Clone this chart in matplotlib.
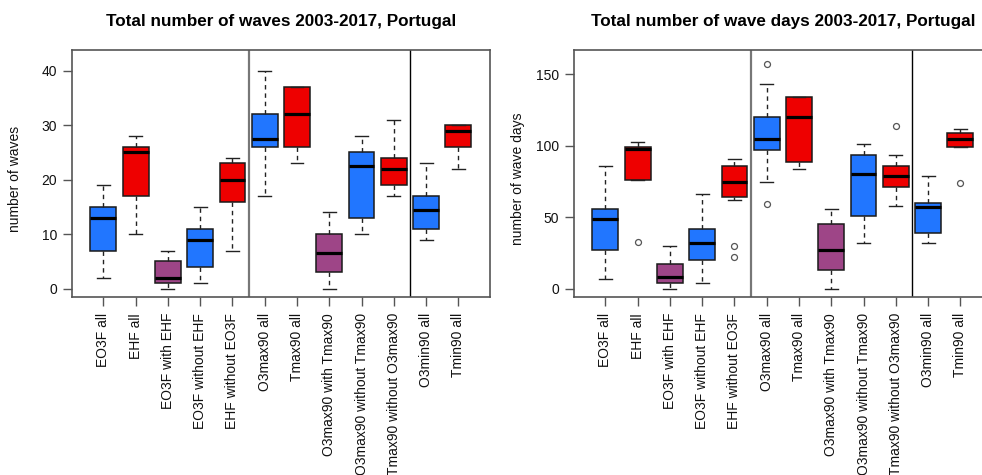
import matplotlib
matplotlib.use("Agg")
import matplotlib.pyplot as plt

plt.rcParams['font.family'] = ['Liberation Sans', 'DejaVu Sans']

labels = ["EO3F all", "EHF all", "EO3F with EHF", "EO3F without EHF", "EHF without EO3F",
          "O3max90 all", "Tmax90 all", "O3max90 with Tmax90", "O3max90 without Tmax90",
          "Tmax90 without O3max90", "O3min90 all", "Tmin90 all"]

blue, red, purple = "#2176FF", "#EE0000", "#9E4587"
box_colors = [blue, red, purple, blue, red, blue, red, purple, blue, red, blue, red]

# total number of waves
waves_lo = [2, 10, 0, 1, 7, 17, 23, 0, 10, 17, 9, 22]
waves_q1 = [7, 17, 1, 4, 16, 26, 26, 3, 13, 19, 11, 26]
waves_med = [13, 25, 2, 9, 20, 27.5, 32, 6.5, 22.5, 22, 14.5, 29]
waves_q3 = [15, 26, 5, 11, 23, 32, 37, 10, 25, 24, 17, 30]
waves_hi = [19, 28, 7, 15, 24, 40, 37, 14, 28, 31, 23, 30]
waves_out = [[], [], [], [], [], [], [], [], [], [], [], []]

# total number of wave days
days_lo = [7, 76, 0, 4, 62, 75, 84, 0, 32, 58, 32, 99]
days_q1 = [27, 76, 4, 20, 64, 97, 89, 13, 51, 71, 39, 99]
days_med = [49, 98, 8, 32, 75, 104.5, 120, 27, 80, 79, 57, 105]
days_q3 = [56, 99, 17, 42, 86, 120, 134, 45, 93.5, 86, 60, 109]
days_hi = [86, 103, 30, 66, 91, 143, 134, 56, 101, 93.5, 79, 112]
days_out = [[], [33], [], [], [30, 22], [157, 59], [], [], [], [114], [], [74]]


def boxpanel(ax, lo, q1, med, q3, hi, out, title, ylabel, ylim, yticks, ylab_x):
    stats = []
    for i in range(len(labels)):
        stats.append(dict(label=labels[i], whislo=lo[i], q1=q1[i], med=med[i],
                          q3=q3[i], whishi=hi[i], fliers=out[i]))
    pos = list(range(1, len(labels) + 1))
    bp = ax.bxp(stats, positions=pos, widths=0.8, capwidths=0.4, patch_artist=True,
                boxprops=dict(edgecolor="#1a1a1a", linewidth=1.1),
                whiskerprops=dict(color="#222222", linewidth=1.0, linestyle=(0, (3.2, 2.8))),
                capprops=dict(color="#222222", linewidth=1.0),
                medianprops=dict(color="black", linewidth=2.3, solid_capstyle="butt"),
                flierprops=dict(marker="o", markersize=4.3, markerfacecolor="none",
                                markeredgecolor="#555555", markeredgewidth=0.9))
    for patch, c in zip(bp["boxes"], box_colors):
        patch.set_facecolor(c)

    # group separators
    ax.axvline(5.5, color="#777777", linewidth=1.6)
    ax.axvline(10.5, color="black", linewidth=1.0)

    ax.set_xlim(0.02, 12.98)
    ax.set_ylim(*ylim)
    ax.set_yticks(yticks)
    ax.set_xticks(pos)
    ax.set_xticklabels(labels, rotation=90, ha="center", va="top")
    ax.tick_params(axis="both", labelsize=10, length=6.5, width=1.0,
                   color="#555555", labelcolor="#111111")
    ax.tick_params(axis="x", pad=5)
    ax.tick_params(axis="y", pad=4)
    for sp in ax.spines.values():
        sp.set_color("#555555")
        sp.set_linewidth(1.2)
    ax.set_title(title, fontsize=12.3, fontweight="bold", pad=17)
    ax.set_ylabel(ylabel, fontsize=10, color="#111111", ha="center", va="center")
    ax.yaxis.set_label_coords(ylab_x, 0.48)


fig = plt.figure(figsize=(9.82, 4.75), dpi=100)
ax1 = fig.add_axes([0.073, 0.3747, 0.426, 0.52])
ax2 = fig.add_axes([0.5842, 0.3747, 0.426, 0.52])

boxpanel(ax1, waves_lo, waves_q1, waves_med, waves_q3, waves_hi, waves_out,
         "Total number of waves 2003-2017, Portugal", "number of waves",
         (-1.52, 43.8), [0, 10, 20, 30, 40], -0.1355)
boxpanel(ax2, days_lo, days_q1, days_med, days_q3, days_hi, days_out,
         "Total number of wave days 2003-2017, Portugal", "number of wave days",
         (-5.8, 167.1), [0, 50, 100, 150], -0.134)

fig.savefig("out.png", dpi=100)
